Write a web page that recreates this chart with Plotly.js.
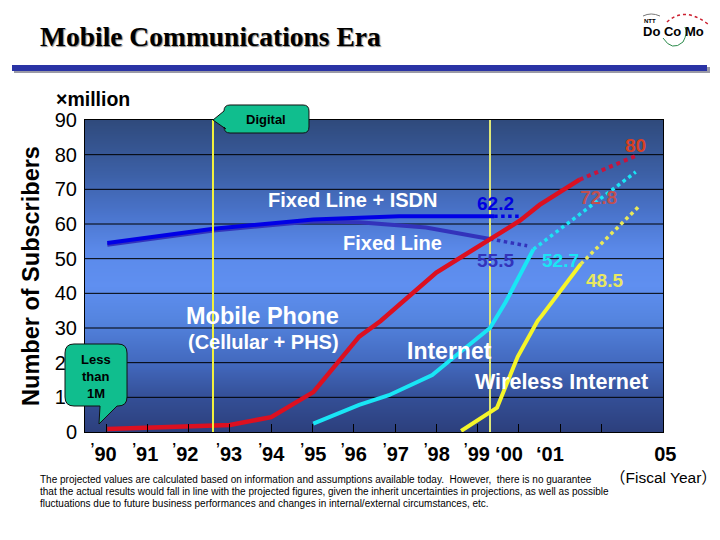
<!DOCTYPE html>
<html><head><meta charset="utf-8">
<script src="https://cdn.plot.ly/plotly-3.0.1.min.js"></script>
<style>html,body{margin:0;padding:0;background:#fff}</style></head>
<body><div id="chart" style="width:720px;height:540px"></div>
<script>
const yTicks = [0,10,20,30,40,50,60,70,80,90];
const binEdges = [1990,1991,1992,1993,1994,1995,1996,1997,1998,1999,2000,2001,2002];
const xLabelPos = [1989.94,1990.95,1991.92,1992.98,1994.0,1995.02,1996.0,1997.02,1998.01,1998.98,1999.76,2000.75,2003.48];
const xLabels = ["<sup>’</sup>90","<sup>’</sup>91","<sup>’</sup>92","<sup>’</sup>93","<sup>’</sup>94","<sup>’</sup>95","<sup>’</sup>96","<sup>’</sup>97","<sup>’</sup>98","<sup>’</sup>99","‘00","‘01","&nbsp;05"];

const mobileX = [1990.03,1992.6,1993.0,1994.0,1995.02,1996.13,1996.65,1998.0,1999.38,2000.03,2000.5,2001.47];
const mobileY = [0.9,1.8,2.0,4.3,11.5,27.5,32,46,56,61,65.5,72.8];
const mobileProjX = [2001.47,2002.9];
const mobileProjY = [72.8,80];

const isdnX = [1990.03,1992.6,1995.02,1997.1,1998.0,1999.4];
const isdnY = [54.5,58.6,61.3,62.2,62.2,62.2];
const isdnProjX = [1999.4,2000.03];
const isdnProjY = [62.2,62.2];

const fixedX = [1990.03,1992.6,1995.02,1996.13,1997.75,1999.3];
const fixedY = [54,58.1,60.8,60.5,59,55.7];
const fixedProjX = [1999.3,2000.2];
const fixedProjY = [55.7,53.7];

const netX = [1995.02,1996.13,1996.85,1997.9,1998.55,1999.3,1999.68,2000.35];
const netY = [2.4,7.8,10.6,16.4,22.8,30,37.5,52.7];
const netProjX = [2000.35,2002.83];
const netProjY = [52.7,75];

const wirelessX = [1998.6,1999.47,1999.97,2000.45,2000.55,2001.5];
const wirelessY = [0.3,7,21.7,32,33.5,48.5];
const wirelessProjX = [2001.5,2002.9];
const wirelessProjY = [48.5,65];

const digitalX = 1992.59;
const imodeX = 1999.3;

const xMin = 1989.49, xMax = 2003.49;
const L=85,R=663,T=120,B=432;
const px = p => (p-L)/(R-L);
const py = p => (B-p)/(B-T);

const zRows = [0,5,10,15,20,25,30,35,40,45,50,55,60,65,70,75,80,85,90];
const gradient = [[0,'#2c3f7c'],[0.10,'#334d93'],[0.22,'#4268bd'],[0.36,'#5484df'],[0.47,'#5f8ff0'],[0.58,'#5b8aea'],[0.70,'#4a74cc'],[0.82,'#3d61a8'],[1,'#2f4a7c']];

const gridX=[],gridY=[];
yTicks.slice(1,-1).forEach(v=>{gridX.push(xMin,xMax,null);gridY.push(v,v,null);});

const line=(x,y,color,width,dash)=>({type:'scatter',mode:'lines',x,y,hoverinfo:'skip',showlegend:false,cliponaxis:false,line:{color,width,dash:dash||'solid',shape:'linear'}});

const traces=[
 {type:'heatmap',x:[xMin,xMax],y:zRows,z:zRows.map(v=>[v,v]),colorscale:gradient,zmin:0,zmax:90,showscale:false,zsmooth:'best',hoverinfo:'skip'},
 {type:'scatter',mode:'lines',x:gridX,y:gridY,hoverinfo:'skip',showlegend:false,line:{color:'#000',width:1}},
 line([imodeX,imodeX],[-1,90],'#dfe878',2),
 line(fixedX,fixedY,'#3333bb',4),
 line(fixedProjX,fixedProjY,'#3333bb',3.5,'dot'),
 line(isdnX,isdnY,'#0000e6',4),
 line(isdnProjX,isdnProjY,'#0000e6',3.5,'dot'),
 line(netX,netY,'#19e6f5',4),
 line(netProjX,netProjY,'#19e6f5',3.5,'dot'),
 line(wirelessX,wirelessY,'#f5f52a',4),
 line(wirelessProjX,wirelessProjY,'#e8e85a',3.5,'dot'),
 line(mobileX,mobileY,'#dc1020',4.5),
 line(mobileProjX,mobileProjY,'#c8143c',4,'dot'),
 line([digitalX,digitalX],[-1,91],'#f2f23c',2)
];

const SANS='"Liberation Sans", "Noto Sans CJK JP", Arial, sans-serif';
const txt=(text,x,y,size,color,anchor,extra)=>Object.assign({text,x:px(x),y:py(y),xref:'paper',yref:'paper',xanchor:anchor||'center',yanchor:'middle',showarrow:false,align:'left',font:{family:SANS,size,color,weight:'bold'}},extra||{});
const plain=(size)=>({font:{family:SANS,size,color:'#000'}});

const annotations=[
 txt('×million',54,99,19.5,'#000','left'),
 txt('Digital',266,119,13,'#000'),
 txt('Less',96,359,13,'#000'),
 txt('than',96,376,13,'#000'),
 txt('1M',96,393,13,'#000'),
 txt('Fixed Line + ISDN',352,200,20,'#fff'),
 txt('Fixed Line',392,243,20,'#fff'),
 txt('Mobile Phone',262,316,23.5,'#fff'),
 txt('(Cellular + PHS)',263,342,20,'#fff'),
 txt('Internet',449,351,23,'#fff'),
 txt('Wireless Internet',561,382,21.5,'#fff'),
 txt('62.2',495,203,19,'#0000e0'),
 txt('55.5',495,260,19,'#3333bb'),
 txt('52.7',560,260,19,'#19e6f5'),
 txt('48.5',604,280,19,'#e8e860'),
 txt('72.8',598,197,19,'#c05050'),
 txt('80',635,145,19,'#d84020'),
 txt('（Fiscal Year）',719,477,15.5,'#000','right',plain(15.5)),
 txt('The projected values are calculated based on information and assumptions available today.  However,  there is no guarantee',38,479,10,'#000','left',plain(10)),
 txt('that the actual results would fall in line with the projected figures, given the inherit uncertainties in projections, as well as possible',38,491,10,'#000','left',plain(10)),
 txt('fluctuations due to future business performances and changes in internal/external circumstances, etc.',38,503,10,'#000','left',plain(10)),
 txt('NTT',650,20.5,6,'#000'),
 txt('Do Co Mo',673,32,13,'#000')
];

const P=(x,y)=>px(x).toFixed(4)+','+py(y).toFixed(4);
function bubble(x0,y0,x1,y1,r,tail){
 let d='M'+P(x0+r,y0)+' L'+P(x1-r,y0)+' Q'+P(x1,y0)+' '+P(x1,y0+r)+' L'+P(x1,y1-r)+' Q'+P(x1,y1)+' '+P(x1-r,y1);
 if(tail.side==='bottom'){d+=' L'+P(tail.b,y1)+' L'+P(tail.x,tail.y)+' L'+P(tail.a,y1);}
 d+=' L'+P(x0+r,y1)+' Q'+P(x0,y1)+' '+P(x0,y1-r);
 if(tail.side==='left'){d+=' L'+P(x0+r*0.3,y0+tail.a)+' L'+P(tail.x,tail.y)+' L'+P(x0,y0+r);}
 d+=' L'+P(x0,y0+r)+' Q'+P(x0,y0)+' '+P(x0+r,y0)+' Z';
 return d;
}
const shapes=[
 {type:'rect',xref:'paper',yref:'paper',x0:px(14),x1:px(710),y0:py(67),y1:py(73),fillcolor:'#9a9aa6',line:{width:0},layer:'above'},
 {type:'rect',xref:'paper',yref:'paper',x0:px(12),x1:px(707),y0:py(65),y1:py(71),fillcolor:'#2a33a5',line:{width:0},layer:'above'},
 {type:'path',xref:'paper',yref:'paper',path:bubble(224,105,309,133,6,{side:'left',a:24,x:213,y:120}),fillcolor:'#10be8e',line:{color:'#111',width:1},layer:'above'},
 {type:'path',xref:'paper',yref:'paper',path:bubble(65,344,127,406,9,{side:'bottom',a:100,x:99,y:424,b:117}),fillcolor:'#10be8e',line:{color:'#111',width:1},layer:'above'},
 {type:'path',xref:'paper',yref:'paper',path:'M'+P(643,16)+' Q'+P(651,12)+' '+P(660,16),line:{color:'#777',width:1},layer:'above'},
 {type:'path',xref:'paper',yref:'paper',path:'M'+P(667,22)+' Q'+P(684,6)+' '+P(708,24),line:{color:'#cc2030',width:1.5,dash:'dot'},layer:'above'},
 {type:'path',xref:'paper',yref:'paper',path:'M'+P(663,38)+' Q'+P(672,52)+' '+P(683,42)+' Q'+P(688,33)+' '+P(685,27),line:{color:'#2a8a4a',width:1},layer:'above'}
];

const layout={
 width:720,height:540,autosize:false,
 margin:{l:L,r:720-R,t:T,b:540-B,pad:0},
 paper_bgcolor:'#fff',plot_bgcolor:'#fff',showlegend:false,
 title:{text:'Mobile Communications Era',x:40/720,xanchor:'left',xref:'container',y:1-36/540,yanchor:'middle',font:{family:'"Liberation Serif", serif',size:27.5,color:'#000',weight:'bold',shadow:'1px 1px 1px #888'}},
 xaxis:{range:[xMin,xMax],showgrid:false,zeroline:false,showline:true,linecolor:'#000',linewidth:1,mirror:true,layer:'above traces',
   tickmode:'array',tickvals:xLabelPos,ticktext:xLabels,ticks:'',ticklen:0,ticklabelstandoff:4,tickangle:0,tickfont:{family:SANS,size:20,color:'#000',weight:'bold'},
   minor:{tickmode:'array',tickvals:binEdges,ticks:'inside',ticklen:8,tickcolor:'#000',tickwidth:1,showgrid:false}},
 yaxis:{range:[0,90],showgrid:false,zeroline:false,showline:true,linecolor:'#000',linewidth:1,mirror:true,layer:'above traces',
   tickmode:'array',tickvals:yTicks,ticktext:yTicks.map(String),ticks:'outside',ticklen:3,tickcolor:'rgba(0,0,0,0)',tickfont:{family:SANS,size:20,color:'#000'},
   title:{text:'Number of Subscribers',standoff:8,font:{family:SANS,size:23.5,color:'#000',weight:'bold'}}},
 annotations,shapes
};
Plotly.newPlot('chart',traces,layout,{displayModeBar:false,staticPlot:true});
</script></body></html>
